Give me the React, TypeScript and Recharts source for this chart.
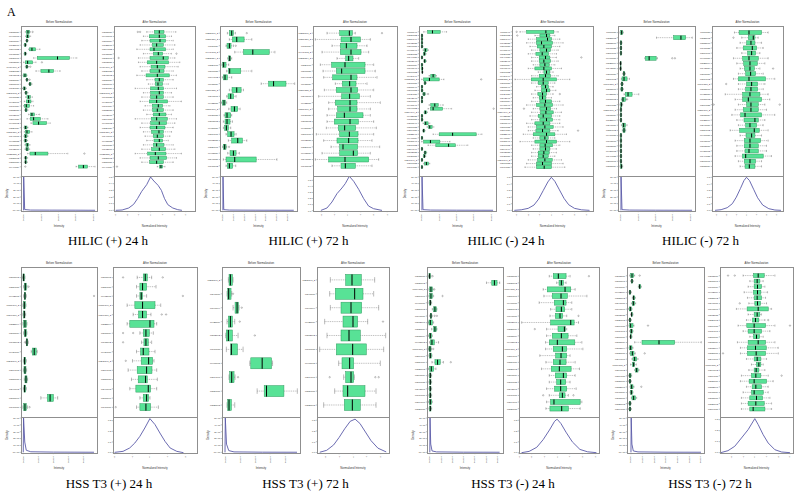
import React from "react";
import { ComposedChart, Bar, XAxis, YAxis, LineChart, Line } from "recharts";

// ---------- feature names ----------
const p1Names = "M285T56 M467T61 M301T54 M123T60 M399T52 M165T58 M536T61 M203T57 M419T60_2 M327T55 M245T62 M558T59 M381T60 M139T56 M295T63_2 M610T55 M437T61 M189T54 M352T58 M702T60 M264T57 M480T62 M229T59 M311T56_2 M146T61 M405T53 M518T58 M172T60 M623T55_2 M338T62 M257T57 M449T59".split(" ");
const p2Names = "M213T61_2 M387T57_2 M156T59 M441T63_2 M282T54_2 M329T60 M507T58 M194T62 M615T59 M366T55_2 M248T61 M432T57 M571T60_2 M137T58 M295T63 M458T56 M319T60 M682T58 M226T61 M403T59 M541T57 M178T62".split(" ");
const p3Names = "M118T47 M236T52 M354T49 M172T55 M290T51 M408T46 M526T53 M144T50 M262T48 M380T54 M198T47 M316T52 M434T49 M152T55_2 M270T51 M388T46 M506T53 M124T50 M242T48 M360T54 M478T47 M196T52 M314T49_2 M432T55 M150T51 M268T46 M386T53 M204T50 M322T48 M440T54 M158T47 M276T52 M394T49 M512T55 M130T51 M248T46_2 M366T53 M184T50".split(" ");
const p4Names = "M117T58 M235T63 M353T60 M171T55 M289T61 M407T57 M525T64 M143T59 M261T56 M379T62 M197T58_2 M315T60 M433T57 M151T63 M269T55 M387T61_2 M505T59 M123T64 M241T56 M359T62 M477T58 M195T60 M313T57 M431T63 M149T55 M267T61 M385T59".split(" ");
const p5Names = "M301T93 M259T88 M412T95 M187T90_2 M346T87_2 M223T94 M378T89 M165T92 M439T86 M292T91_2 M204T95 M357T88 M246T93 M318T90 M176T87".split(" ");
const p6Names = "M263T91_2 M348T86 M197T94 M425T89 M312T92 M186T88 M401T95 M274T90 M339T87 M228T93".split(" ");
const p7Names = "M215T88 M330T92 M174T85_2 M289T90 M407T87 M256T93 M191T86 M372T91 M238T89 M315T84 M403T92 M167T88_2 M284T90 M359T86 M221T93 M398T89 M276T85 M343T91 M189T87 M264T90 M327T88".split(" ");
const p8Names = "M273T86 M318T91 M187T89 M402T84 M255T92 M341T87 M198T90 M372T85 M226T93 M309T88 M154T91 M287T86 M365T89 M213T94 M338T87 M249T90 M176T85_2 M296T92 M384T88 M231T86 M352T91 M168T89 M275T87 M321T93 M204T88".split(" ");

// ---------- box statistics: [min, q1, median, q3, max, ...outliers] ----------
const p1Before = [[13,16,21,26,28,35],[14,16,20,24,29],[14,16,18,20,22],[9,11,13,15,17],[23,26,33,44,57],[9,11,13,15,17],[38,49,110,146,168],[8,13,20,35,45,63],[13,15,18,20,23,28],[45,60,84,98,118],[6,8,12,16,18],[14,16,18,20,22,26],[23,25,27,30,33],[4,8,10,13,16],[11,13,15,18,21],[14,18,23,28,34],[10,16,23,30,36],[8,11,16,25,38],[11,13,15,18,21],[23,28,33,40,56],[18,28,38,58,81],[30,36,53,77,88],[9,11,14,18,21],[10,13,18,26,33],[9,11,14,18,21],[9,11,14,17,20],[12,15,19,23,27],[12,15,18,22,26],[20,27,43,81,141,191],[10,12,14,17,20],[10,12,14,16,19],[166,174,188,200,223,13]];
const p1After = [[99,122,137,151,187,72,79],[89,107,137,156,174],[84,109,139,156,179],[79,116,129,149,184],[69,109,121,156,179],[89,119,134,147,174,189],[74,109,149,164,184,14],[74,101,129,165,199],[79,112,131,154,194],[84,109,137,151,179],[69,97,131,167,189],[99,124,137,149,179],[104,125,133,147,164],[64,111,134,149,189],[89,111,137,149,174],[84,111,129,149,179],[79,107,129,162,204],[94,116,134,147,169],[89,117,131,149,179],[99,119,137,157,174],[64,113,129,161,189],[84,111,137,159,184],[79,109,129,154,179],[89,114,136,149,174],[94,119,131,149,169],[99,121,137,147,164],[89,119,129,151,179],[84,114,137,156,184],[64,102,125,157,204],[79,109,134,159,189],[84,108,129,149,179],[131,137,142,147,154,9]];

const p2Before = [[22,28,35,40,46,80],[28,37,50,72,95],[18,21,28,33,40,47],[44,70,98,147,164],[23,26,29,32,35],[6,8,11,18,26],[20,25,29,62,95],[7,10,15,22,35],[123,145,160,197,223],[28,36,50,63,70],[20,24,32,41,48],[4,7,12,16,20],[26,33,43,53,60],[12,15,21,32,35],[10,15,21,30,37],[10,14,19,25,32],[18,23,33,42,48],[25,35,53,67,80],[8,10,14,18,20,27],[23,30,40,48,58],[10,18,44,108,170],[18,22,28,38,47]];
const p2After = [[42,80,109,118,127,207],[7,84,114,142,172],[57,82,100,132,162],[27,82,114,144,167],[72,98,107,120,137],[22,56,96,156,182],[30,70,86,156,187],[32,59,114,132,192],[67,88,110,129,162],[34,70,114,134,182],[17,86,110,139,172],[47,67,111,132,202],[47,74,111,132,172],[42,71,94,150,172],[42,64,111,136,182],[40,76,95,128,190],[10,80,109,135,182],[32,72,107,135,177],[54,80,90,134,200],[27,80,121,134,172],[7,47,96,167,197],[57,84,97,127,177]];

const p3Before = [[14,26,40,63,82],[7,8,9,10,11],[7,8,9,10,11],[7,8,9,10,11],[7,8,9,10,12],[12,15,19,24,28],[13,14,16,19,21],[7,8,9,10,11],[14,15,17,20,22],[7,8,9,10,11],[7,8,10,11,12],[8,9,10,11,12],[30,35,42,48,52],[8,14,31,60,74,185],[15,16,18,20,22],[7,8,9,10,11],[7,8,9,11,12],[11,12,15,18,20,27],[7,8,9,10,11],[7,8,9,10,11],[30,35,47,57,72],[27,34,42,70,97,222],[15,16,19,22,25],[7,8,9,10,11],[7,8,9,11,12],[12,16,20,27,32],[24,28,32,39,44],[11,12,14,16,18],[42,60,100,170,187],[7,8,9,10,11],[8,14,34,62,92],[27,50,88,108,145],[7,8,9,10,11],[15,16,18,21,23],[13,14,16,18,20],[7,8,9,10,11],[14,17,22,28,32],[7,8,9,10,11]];
const p3After = [[24,44,102,126,139,14],[69,84,104,114,129,16],[49,74,107,119,144],[44,74,89,122,154],[54,76,96,119,144],[59,84,104,116,139],[49,72,91,110,134],[59,82,101,114,134,209],[59,82,96,116,139],[64,84,99,112,129],[49,69,96,119,149],[79,96,104,114,124],[59,82,101,116,139],[9,58,94,134,174],[59,79,94,109,129],[74,89,101,110,124],[69,89,104,114,132],[59,78,92,104,124,144],[64,82,92,102,119],[59,84,101,119,144],[44,74,99,122,154],[64,84,104,116,134,36],[59,86,102,124,149],[54,79,94,119,144],[59,84,104,122,144],[44,69,94,114,144],[49,74,99,124,154],[49,72,92,114,139,199],[34,64,104,129,164],[64,84,99,109,129],[24,69,104,134,174],[59,84,100,122,144],[64,84,101,114,134],[59,79,96,112,134],[59,79,94,109,129],[49,77,99,121,149],[44,74,92,119,154],[39,74,97,119,159]];

const p4Before = [[6,8,11,14,16],[115,166,188,202,222],[6,8,9,11,12],[6,8,9,10,11],[6,8,9,10,11],[80,82,93,114,118,162,170],[5,7,8,9,10],[5,7,8,9,10],[14,16,18,20,22],[10,12,18,27,34],[8,10,12,14,16],[7,9,12,14,16],[18,22,30,42,62],[10,12,15,22,24,27],[6,8,10,12,14],[6,8,9,10,11],[6,8,9,10,11],[6,8,9,10,11],[10,14,17,22,27],[13,15,18,21,23],[6,8,9,10,11],[6,8,9,10,11],[6,8,9,10,11],[6,8,9,10,11],[6,8,9,10,11],[6,8,9,10,11],[6,8,10,12,14]];
const p4After = [[68,82,112,150,170],[90,110,125,130,140,65],[85,105,118,130,150],[75,95,122,135,155],[90,108,120,132,145],[65,93,112,140,170],[75,96,115,137,160],[85,99,115,128,145,185],[80,102,117,132,155],[65,80,112,162,190],[80,105,120,138,160,43],[80,102,118,138,155],[40,93,115,145,170],[70,93,110,150,175],[80,105,118,140,160,5,205],[70,95,118,140,165],[60,87,100,150,190],[75,97,130,140,160],[80,102,115,135,155],[55,84,128,143,170],[85,103,120,130,150],[70,98,115,147,170],[75,98,115,140,165],[75,100,112,140,165],[70,92,102,155,180],[80,98,115,132,150],[85,100,113,130,150]];

const p5Before = [[4,6,8,10,12],[8,10,13,16,18,23],[8,10,12,14,16,221],[6,8,10,13,15],[6,8,10,12,14],[6,8,12,16,18],[8,10,13,16,18],[14,16,18,20,22,12],[31,34,40,46,49],[7,9,11,14,16],[7,9,12,15,17],[10,12,15,18,20],[7,9,11,14,16],[60,80,88,98,111],[6,8,12,16,20,26]];
const p5After = [[72,90,96,102,115,30,148],[70,80,88,100,128],[70,80,84,88,100,208],[42,65,88,125,142],[60,76,88,100,113,145,158],[42,50,110,122,130],[80,90,98,108,120,30,60],[85,92,98,105,115,30],[70,82,90,107,125],[58,84,106,118,122,38],[45,72,100,116,130],[55,75,97,102,132],[50,68,105,112,130],[80,90,100,106,110],[70,80,98,112,135,8]];

const p6Before = [[19,21,25,31,33],[15,17,20,27,29,33],[33,39,45,49,51,59],[15,19,25,31,38,53],[11,13,19,31,48,98],[13,26,28,46,63],[83,86,120,148,151],[21,23,29,36,39,48],[105,126,133,185,225],[15,17,21,28,38]];
const p6After = [[40,86,105,133,173],[38,55,113,138,170],[40,72,102,134,185],[23,78,108,122,152,198],[30,72,96,130,206],[8,58,107,148,200],[65,75,98,110,190],[80,86,102,110,112,38,175,185],[53,78,92,144,177],[20,82,106,130,177]];

const p7Before = [[4,6,8,10,12,17],[180,196,204,212,220],[6,8,12,16,18,22],[6,8,12,16,20,47],[6,8,10,12,14],[16,20,24,28,30],[8,10,12,14,16,23,30],[4,6,10,16,20],[14,20,24,28,30],[5,7,10,14,16],[8,10,15,22,35],[4,6,9,12,14,19],[6,8,10,13,15],[15,24,32,40,50,72],[5,8,13,20,27],[6,8,10,12,14],[6,8,10,12,14],[6,8,10,12,14],[6,8,10,12,14],[5,7,10,14,16],[6,8,10,12,14]];
const p7After = [[90,102,117,140,152,208],[112,119,126,132,140],[72,84,137,154,167],[74,99,125,144,202],[60,105,132,140,157],[94,110,126,136,157],[92,108,122,130,142,177],[8,94,154,164,177],[82,116,135,138,142,47],[82,99,126,146,172],[79,90,114,166,187],[79,102,129,142,190],[62,109,125,142,152],[80,102,122,140,167],[67,96,120,155,180],[90,108,132,142,167],[90,112,124,139,152],[82,106,124,142,170],[90,120,129,137,147,72,162],[82,94,104,182,187],[80,92,127,147,182]];

const p8Before = [[8,11,15,20,23,38],[11,13,15,17,19],[34,36,38,41,43],[6,8,9,11,13],[16,18,20,23,25],[13,16,19,23,26],[5,7,10,13,15],[11,13,14,16,18],[5,7,9,11,13],[6,8,11,18,21,63],[8,10,13,16,18],[8,10,11,13,15],[23,45,96,143,223],[6,8,11,15,18],[8,11,16,21,25,53],[15,18,23,29,33],[11,16,20,23,28],[23,25,29,33,36],[5,7,9,12,14],[5,7,9,11,13],[9,11,14,18,21,43],[9,11,13,16,18],[13,15,20,25,29],[5,7,9,11,13],[5,7,9,11,13]];
const p8After = [[69,100,114,132,164,24,44],[89,102,111,119,129],[84,102,112,124,134],[72,100,112,122,142],[82,102,111,124,136],[86,104,112,121,139,59],[49,81,114,144,154],[84,102,111,119,124],[79,97,106,116,134,144],[54,80,102,136,164,209],[69,84,102,124,149],[89,100,109,118,129],[52,84,114,136,164],[61,82,106,138,174],[61,82,108,136,174,9],[79,102,111,122,139],[94,109,116,122,129],[86,102,108,116,134],[64,94,107,122,144,184],[61,87,102,139,159],[79,96,107,124,144],[69,94,102,129,144],[64,89,109,127,149],[64,84,107,132,154],[64,89,99,134,154]];

// ---------- density curves: [x, density] ----------
const p1DensB = [[0,0],[0.005,5],[0.06,0.12],[0.4,0.04],[1.5,0.03],[3,0.02],[4.1,0.01]];
const p1DensA = [[-2.97,0],[-2.42,0.005],[-1.86,0.035],[-1.44,0.09],[-1.11,0.175],[-0.75,0.285],[-0.33,0.385],[0,0.5],[0.28,0.44],[0.64,0.375],[0.92,0.3],[1.19,0.175],[1.47,0.085],[1.89,0.035],[2.31,0.01],[2.67,0]];
const p2DensB = [[0,0],[0.01,5],[0.08,0.1],[0.6,0.04],[3,0.02],[6.6,0.01]];
const p2DensA = [[-2.03,0.005],[-1.57,0.044],[-1.19,0.143],[-0.81,0.28],[-0.43,0.374],[-0.18,0.445],[0.13,0.566],[0.46,0.484],[0.84,0.352],[1.22,0.198],[1.59,0.077],[1.97,0.033],[2.61,0.005]];
const p3DensB = [[0,0],[0.005,5],[0.06,0.1],[0.5,0.04],[2,0.02],[4.1,0.01]];
const p3DensA = [[-3.2,0],[-2.6,0.008],[-2,0.03],[-1.5,0.08],[-1.1,0.17],[-0.7,0.3],[-0.3,0.43],[0,0.5],[0.3,0.44],[0.7,0.31],[1.1,0.18],[1.5,0.085],[2,0.03],[2.6,0.008],[3.3,0]];
const p4DensB = [[0,0],[0.005,5],[0.06,0.1],[0.5,0.04],[2,0.02],[4.1,0.01]];
const p4DensA = [[-3.1,0],[-2.5,0.01],[-1.9,0.04],[-1.4,0.1],[-1,0.2],[-0.6,0.33],[-0.25,0.45],[0,0.5],[0.3,0.45],[0.7,0.32],[1.1,0.19],[1.6,0.08],[2.2,0.025],[2.8,0.005],[3.4,0]];
const p5DensB = [[0,0],[0.02,5],[0.1,1.5],[0.2,0.3],[0.5,0.08],[2,0.03],[4.7,0.01]];
const p5DensA = [[-2.01,0.003],[-1.53,0.0125],[-1.15,0.044],[-0.86,0.09],[-0.57,0.153],[-0.29,0.231],[0,0.319],[0.29,0.263],[0.57,0.184],[0.86,0.106],[1.15,0.044],[1.53,0.0125],[1.91,0]];
const p6DensB = [[0,0],[0.02,5],[0.1,1.2],[0.25,0.25],[0.6,0.06],[2.5,0.02],[4.8,0.01]];
const p6DensA = [[-2.4,0.002],[-1.9,0.02],[-1.4,0.07],[-1,0.14],[-0.6,0.22],[-0.2,0.29],[0.15,0.31],[0.5,0.27],[0.9,0.19],[1.3,0.11],[1.8,0.04],[2.4,0.005]];
const p7DensB = [[0,0],[0.02,5],[0.08,1.2],[0.2,0.2],[0.6,0.06],[3,0.02],[6.2,0.01]];
const p7DensA = [[-2.8,0],[-2.2,0.012],[-1.6,0.05],[-1.1,0.12],[-0.6,0.21],[-0.2,0.29],[0,0.31],[0.3,0.27],[0.7,0.19],[1.2,0.1],[1.8,0.03],[2.4,0.008],[3.1,0]];
const p8DensB = [[0,0],[0.02,5],[0.08,1.2],[0.2,0.2],[0.6,0.06],[3,0.02],[6,0.01]];
const p8DensA = [[-2.91,0],[-2.29,0.018],[-1.71,0.058],[-1.14,0.133],[-0.57,0.209],[0,0.309],[0.29,0.255],[0.71,0.164],[1.14,0.088],[1.71,0.027],[2.29,0.006],[3.0,0]];

// ---------- tick labels ----------
const sciX = ["0e+00","1e+07","2e+07","3e+07","4e+07","5e+07","6e+07"];
const sciY = ["0e+00","1e-07","2e-07","3e-07","4e-07","5e-07"];
const ticks5 = [0,1,2,3,4];
const ticks7 = [0,1,2,3,4,5,6];
const densYTicksTop = [0,0.1,0.2,0.3,0.4,0.5];
const densYTicksBot = [0,0.1,0.2,0.3];
const densYLabelsTop = ["0.0","0.1","0.2","0.3","0.4","0.5"];
const densYLabelsBot = ["0.0","0.1","0.2","0.3"];
const beforeYTicks = [0,1,2,3,4,5];
const titles = ["HILIC (+) 24 h","HILIC (+) 72 h","HILIC (-) 24 h","HILIC (-) 72 h","HSS T3 (+) 24 h","HSS T3 (+) 72 h","HSS T3 (-) 24 h","HSS T3 (-) 72 h"];

// ---------- layout ----------
const ROWS = [
  { top: 26, boxH: 150, densH: 35, padT: 4, padB: 7, labelY: 245 },
  { top: 267, boxH: 150, densH: 36, padT: 6, padB: 5, labelY: 488 },
];
const COLS = [
  { bL: 21, bR: 97, aL: 114, aR: 195 },
  { bL: 220, bR: 297, aL: 313, aR: 397 },
  { bL: 419, bR: 496, aL: 512, aR: 593 },
  { bL: 618, bR: 695, aL: 712, aR: 783 },
  { bL: 21, bR: 97, aL: 113, aR: 197 },
  { bL: 222, bR: 300, aL: 317, aR: 389 },
  { bL: 427, bR: 503, aL: 519, aR: 599 },
  { bL: 627, bR: 704, aL: 720, aR: 793 },
];

const PANELS = [
  { names: p1Names, before: p1Before, after: p1After, bMax: 229, aMax: 245, dB: p1DensB, dA: p1DensA, bx: [-0.15, 4.21], bt: ticks5, ax: [-3.11, 3.78], at: [-3,-2,-1,0,1,2,3], ay: [-0.01, 0.515] },
  { names: p2Names, before: p2Before, after: p2After, bMax: 230, aMax: 252, dB: p2DensB, dA: p2DensA, bx: [-0.27, 6.9], bt: ticks7, ax: [-2.63, 3.75], at: [-2,-1,0,1,2,3], ay: [-0.005, 0.571] },
  { names: p3Names, before: p3Before, after: p3After, bMax: 229, aMax: 244, dB: p3DensB, dA: p3DensA, bx: [-0.17, 4.27], bt: ticks5, ax: [-3.4, 3.6], at: [-3,-2,-1,0,1,2,3], ay: [-0.01, 0.52] },
  { names: p4Names, before: p4Before, after: p4After, bMax: 230, aMax: 215, dB: p4DensB, dA: p4DensA, bx: [-0.17, 4.27], bt: ticks5, ax: [-3.4, 3.6], at: [-3,-2,-1,0,1,2,3], ay: [-0.01, 0.52] },
  { names: p5Names, before: p5Before, after: p5After, bMax: 230, aMax: 250, dB: p5DensB, dA: p5DensA, bx: [-0.15, 4.9], bt: ticks5, ax: [-2.1, 2.68], at: [-2,-1,0,1,2], ay: [-0.003, 0.334] },
  { names: p6Names, before: p6Before, after: p6After, bMax: 233, aMax: 216, dB: p6DensB, dA: p6DensA, bx: [-0.2, 5.0], bt: ticks5, ax: [-2.6, 2.6], at: [-2,-1,0,1,2], ay: [-0.005, 0.33] },
  { names: p7Names, before: p7Before, after: p7After, bMax: 230, aMax: 238, dB: p7DensB, dA: p7DensA, bx: [-0.25, 6.5], bt: ticks7, ax: [-3.0, 3.3], at: [-3,-2,-1,0,1,2,3], ay: [-0.003, 0.33] },
  { names: p8Names, before: p8Before, after: p8After, bMax: 231, aMax: 218, dB: p8DensB, dA: p8DensA, bx: [-0.34, 6.26], bt: ticks7, ax: [-2.97, 3.26], at: [-2,-1,0,1,2,3], ay: [-0.003, 0.324] },
];

const SANS = "'Liberation Sans', Arial, sans-serif";
const SERIF = "'Liberation Serif', 'Times New Roman', serif";
const GREEN = "#58e296";
const GREEN_EDGE = "#2f9a5e";
const LINE = "#5a5aa8";
const FRAME = "#8f8f8f";

const renderBox = (props: any) => {
  const { x, y, width, height, payload } = props;
  if (x == null || !payload || !payload.s) return <g />;
  const s: number[] = payload.s;
  const [lo, q1, med, q3, hi] = s;
  const outs = s.slice(5);
  const px = (v: number) => x + ((v - lo) / (hi - lo)) * width;
  const cy = y + height / 2;
  const cap = height * 0.25;
  const bx = Math.min(px(q1), px(q3));
  const bw = Math.max(Math.abs(px(q3) - px(q1)), 0.6);
  return (
    <g>
      <line x1={px(lo)} x2={px(q1)} y1={cy} y2={cy} stroke="#777" strokeWidth={0.5} strokeDasharray="1 0.8" />
      <line x1={px(q3)} x2={px(hi)} y1={cy} y2={cy} stroke="#777" strokeWidth={0.5} strokeDasharray="1 0.8" />
      <line x1={px(lo)} x2={px(lo)} y1={cy - cap} y2={cy + cap} stroke="#777" strokeWidth={0.5} />
      <line x1={px(hi)} x2={px(hi)} y1={cy - cap} y2={cy + cap} stroke="#777" strokeWidth={0.5} />
      <rect x={bx} y={y} width={bw} height={height} fill={GREEN} stroke={GREEN_EDGE} strokeWidth={0.5} />
      <line x1={px(med)} x2={px(med)} y1={y} y2={y + height} stroke="#000" strokeWidth={1} />
      {outs.map((o, i) => (
        <circle key={i} cx={px(o)} cy={cy} r={0.7} fill="none" stroke="#666" strokeWidth={0.4} />
      ))}
    </g>
  );
};

function BoxChart({ names, stats, max, left, right, top, height, padT, padB }: any) {
  const labelW = 16;
  const data = names.map((name: string, i: number) => ({ name, range: [stats[i][0], stats[i][4]], s: stats[i] }));
  return (
    <div style={{ position: "absolute", left: left - labelW, top }}>
      <ComposedChart width={right - left + labelW} height={height} data={data} layout="vertical" margin={{ top: padT, right: 0, bottom: padB, left: 0 }} barCategoryGap="10%">
        <XAxis type="number" domain={[0, max]} hide allowDataOverflow />
        <YAxis type="category" dataKey="name" width={labelW} interval={0} axisLine={false} tickSize={1.2} tickMargin={0.6} tickLine={{ stroke: "#666", strokeWidth: 0.4 }} tick={{ fontSize: 2.4, fill: "#333", fontFamily: SANS }} />
        <Bar dataKey="range" shape={renderBox} isAnimationActive={false} />
      </ComposedChart>
    </div>
  );
}

function RotTick(props: any) {
  const { x, y, payload, ticks, labels } = props;
  const idx = ticks.indexOf(payload.value);
  const txt = idx >= 0 && labels ? labels[idx] : String(payload.value);
  return (
    <text transform={`translate(${x},${y}) rotate(-90)`} textAnchor="end" dominantBaseline="central" fontSize={2.4} fill="#333" fontFamily={SANS}>
      {txt}
    </text>
  );
}

function DensChart({ pts, xDom, xTicks, xLabels, yDom, yTicks, yLabels, left, right, top, height, yW, xTitle }: any) {
  const data = pts.map((p: number[]) => ({ x: p[0], y: p[1] }));
  const xH = 17;
  return (
    <div style={{ position: "absolute", left: left - yW, top }}>
      <LineChart width={right - left + yW} height={height + xH} data={data} margin={{ top: 0, right: 0, bottom: 0, left: 0 }}>
        <XAxis type="number" dataKey="x" domain={xDom} ticks={xTicks} allowDataOverflow interval={0} height={xH} axisLine={false} tickSize={1.2} tickLine={{ stroke: "#666", strokeWidth: 0.4 }}
          tick={(p: any) => <RotTick x={p.x} y={p.y} payload={p.payload} ticks={xTicks} labels={xLabels} />}
          label={{ value: xTitle, position: "insideBottom", offset: 1, fontSize: 2.8, fill: "#333", fontFamily: SANS }} />
        <YAxis type="number" domain={yDom} ticks={yTicks} allowDataOverflow interval={0} width={yW} axisLine={false} tickSize={1.2} tickMargin={0.6} tickLine={{ stroke: "#666", strokeWidth: 0.4 }}
          tickFormatter={(v: number) => { const i = yTicks.indexOf(v); return i >= 0 ? yLabels[i] : String(v); }}
          tick={{ fontSize: 2.3, fill: "#333", fontFamily: SANS }} />
        <Line type="linear" dataKey="y" dot={false} stroke={LINE} strokeWidth={0.9} isAnimationActive={false} />
      </LineChart>
    </div>
  );
}

export default function App() {
  return (
    <div style={{ position: "absolute", left: 0, top: 0, width: 799, height: 499, background: "#fff", overflow: "hidden" }}>
      {PANELS.map((p, i) => {
        const r = ROWS[i < 4 ? 0 : 1];
        const c = COLS[i];
        const dTop = r.top + r.boxH;
        return (
          <React.Fragment key={i}>
            <BoxChart names={p.names} stats={p.before} max={p.bMax} left={c.bL} right={c.bR} top={r.top} height={r.boxH} padT={r.padT} padB={r.padB} />
            <BoxChart names={p.names} stats={p.after} max={p.aMax} left={c.aL} right={c.aR} top={r.top} height={r.boxH} padT={r.padT} padB={r.padB} />
            <DensChart pts={p.dB} xDom={p.bx} xTicks={p.bt} xLabels={sciX} yDom={[-0.1, 5.15]} yTicks={beforeYTicks} yLabels={sciY}
              left={c.bL} right={c.bR} top={dTop} height={r.densH} yW={c.bL - 3} xTitle="Intensity" />
            <DensChart pts={p.dA} xDom={p.ax} xTicks={p.at} xLabels={p.at.map(String)} yDom={p.ay}
              yTicks={i < 4 ? densYTicksTop : densYTicksBot} yLabels={i < 4 ? densYLabelsTop : densYLabelsBot}
              left={c.aL} right={c.aR} top={dTop} height={r.densH} yW={c.aL - c.bR - 3} xTitle="Normalized Intensity" />
          </React.Fragment>
        );
      })}
      <svg width={799} height={499} style={{ position: "absolute", left: 0, top: 0, pointerEvents: "none" }}>
        <text x={7} y={16} fontSize={12} fontFamily={SERIF} fill="#000">A</text>
        {PANELS.map((p, i) => {
          const r = ROWS[i < 4 ? 0 : 1];
          const c = COLS[i];
          const dMid = r.top + r.boxH + r.densH / 2;
          const dX = c.bL - 13;
          return (
            <g key={i}>
              <rect x={c.bL + 0.5} y={r.top + 0.5} width={c.bR - c.bL} height={r.boxH} fill="none" stroke={FRAME} strokeWidth={1} />
              <rect x={c.aL + 0.5} y={r.top + 0.5} width={c.aR - c.aL} height={r.boxH} fill="none" stroke={FRAME} strokeWidth={1} />
              <rect x={c.bL + 0.5} y={r.top + r.boxH + 0.5} width={c.bR - c.bL} height={r.densH} fill="none" stroke={FRAME} strokeWidth={1} />
              <rect x={c.aL + 0.5} y={r.top + r.boxH + 0.5} width={c.aR - c.aL} height={r.densH} fill="none" stroke={FRAME} strokeWidth={1} />
              <text x={(c.bL + c.bR) / 2} y={r.top - 3.3} fontSize={2.8} textAnchor="middle" fontFamily={SANS} fill="#333">Before Normalization</text>
              <text x={(c.aL + c.aR) / 2} y={r.top - 3.3} fontSize={2.8} textAnchor="middle" fontFamily={SANS} fill="#333">After Normalization</text>
              <text transform={`translate(${dX},${dMid}) rotate(-90)`} fontSize={2.8} textAnchor="middle" fontFamily={SANS} fill="#333">Density</text>
              <text x={(c.bL + c.aR) / 2} y={r.labelY} fontSize={13} textAnchor="middle" fontFamily={SERIF} fill="#000">{titles[i]}</text>
            </g>
          );
        })}
      </svg>
    </div>
  );
}
